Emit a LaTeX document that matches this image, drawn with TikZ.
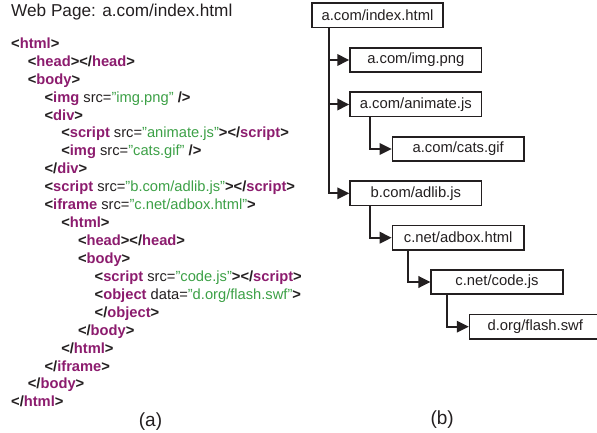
\documentclass[tikz,border=0pt]{standalone}
\usepackage{fontspec}
\setmainfont{Liberation Sans}
\usetikzlibrary{arrows.meta}
\definecolor{tagc}{RGB}{140,28,110}
\definecolor{valc}{RGB}{60,160,70}
\definecolor{ink}{RGB}{35,31,32}
\newcommand\Tn[1]{\textbf{\textcolor{tagc}{#1}}}
\newcommand\Op[1]{\textbf{<}\Tn{#1}}
\newcommand\Ot[1]{\textbf{<}\Tn{#1}\textbf{>}}
\newcommand\Ct[1]{\textbf{</}\Tn{#1}\textbf{>}}
\newcommand\Vl[1]{\textcolor{valc}{”#1”}}
\begin{document}
\begin{tikzpicture}[x=1pt,y=-1pt,
  every node/.style={text=ink},
  codeline/.style={anchor=base west,inner sep=0pt,font=\fontsize{14.7}{16}\selectfont},
  filebox/.style={draw=ink,line width=1.6pt,minimum width=131.5pt,minimum height=24.4pt,inner sep=0pt,font=\fontsize{14.8}{16}\selectfont},
  conn/.style={draw=ink,line width=2pt,-{Triangle[length=12pt,width=11.5pt]}},
  caplabel/.style={anchor=base,inner sep=0pt,font=\fontsize{19}{20}\selectfont}]
\useasboundingbox (0,0) rectangle (597,433);
% left: source
\node[anchor=base west,inner sep=0pt,font=\fontsize{17.2}{19}\selectfont] (title) at (11,16.7) {Web Page: a.com/index.html};
\def\dy{17.93}
\def\ind{16.7}
\node[codeline] (l0) at (11+0*\ind,48.3+0*\dy) {\Ot{html}};
\node[codeline] (l1) at (11+1*\ind,48.3+1*\dy) {\Ot{head}\Ct{head}};
\node[codeline] (l2) at (11+1*\ind,48.3+2*\dy) {\Ot{body}};
\node[codeline] (l3) at (11+2*\ind,48.3+3*\dy) {\Op{img} src=\Vl{img.png} \textbf{/>}};
\node[codeline] (l4) at (11+2*\ind,48.3+4*\dy) {\Ot{div}};
\node[codeline] (l5) at (11+3*\ind,48.3+5*\dy) {\Op{script} src=\Vl{animate.js}\textbf{>}\Ct{script}};
\node[codeline] (l6) at (11+3*\ind,48.3+6*\dy) {\Op{img} src=\Vl{cats.gif} \textbf{/>}};
\node[codeline] (l7) at (11+2*\ind,48.3+7*\dy) {\Ct{div}};
\node[codeline] (l8) at (11+2*\ind,48.3+8*\dy) {\Op{script} src=\Vl{b.com/adlib.js}\textbf{>}\Ct{script}};
\node[codeline] (l9) at (11+2*\ind,48.3+9*\dy) {\Op{iframe} src=\Vl{c.net/adbox.html}\textbf{>}};
\node[codeline] (l10) at (11+3*\ind,48.3+10*\dy) {\Ot{html}};
\node[codeline] (l11) at (11+4*\ind,48.3+11*\dy) {\Ot{head}\Ct{head}};
\node[codeline] (l12) at (11+4*\ind,48.3+12*\dy) {\Ot{body}};
\node[codeline] (l13) at (11+5*\ind,48.3+13*\dy) {\Op{script} src=\Vl{code.js}\textbf{>}\Ct{script}};
\node[codeline] (l14) at (11+5*\ind,48.3+14*\dy) {\Op{object} data=\Vl{d.org/flash.swf}\textbf{>}};
\node[codeline] (l15) at (11+5*\ind,48.3+15*\dy) {\Ct{object}};
\node[codeline] (l16) at (11+4*\ind,48.3+16*\dy) {\Ct{body}};
\node[codeline] (l17) at (11+3*\ind,48.3+17*\dy) {\Ct{html}};
\node[codeline] (l18) at (11+2*\ind,48.3+18*\dy) {\Ct{iframe}};
\node[codeline] (l19) at (11+1*\ind,48.3+19*\dy) {\Ct{body}};
\node[codeline] (l20) at (11+0*\ind,48.3+20*\dy) {\Ct{html}};
\node[caplabel] (capa) at (150.5,426) {(a)};
% right: tree
\node[filebox] (index) at (377.5,15.5) {a.com/index.html};
\node[filebox] (img) at (415.8,60) {a.com/img.png};
\node[filebox] (anim) at (415.8,104.5) {a.com/animate.js};
\node[filebox] (cats) at (458.2,149) {a.com/cats.gif};
\node[filebox] (adlib) at (415.8,193.3) {b.com/adlib.js};
\node[filebox] (adbox) at (458.2,237.7) {c.net/adbox.html};
\node[filebox] (code) at (497,282) {c.net/code.js};
\node[filebox] (flash) at (535.3,326.7) {d.org/flash.swf};
\node[caplabel] (capb) at (442.2,424.3) {(b)};
\draw[conn] ([xshift=17.6pt]index.south west) |- (img.west);
\draw[conn] ([xshift=17.6pt]index.south west) |- (anim.west);
\draw[conn] ([xshift=17.6pt]index.south west) |- (adlib.west);
\draw[conn] ([xshift=21pt]anim.south west) |- (cats.west);
\draw[conn] ([xshift=21pt]adlib.south west) |- (adbox.west);
\draw[conn] ([xshift=16.7pt]adbox.south west) |- (code.west);
\draw[conn] ([xshift=17pt]code.south west) |- (flash.west);
\end{tikzpicture}
\end{document}
